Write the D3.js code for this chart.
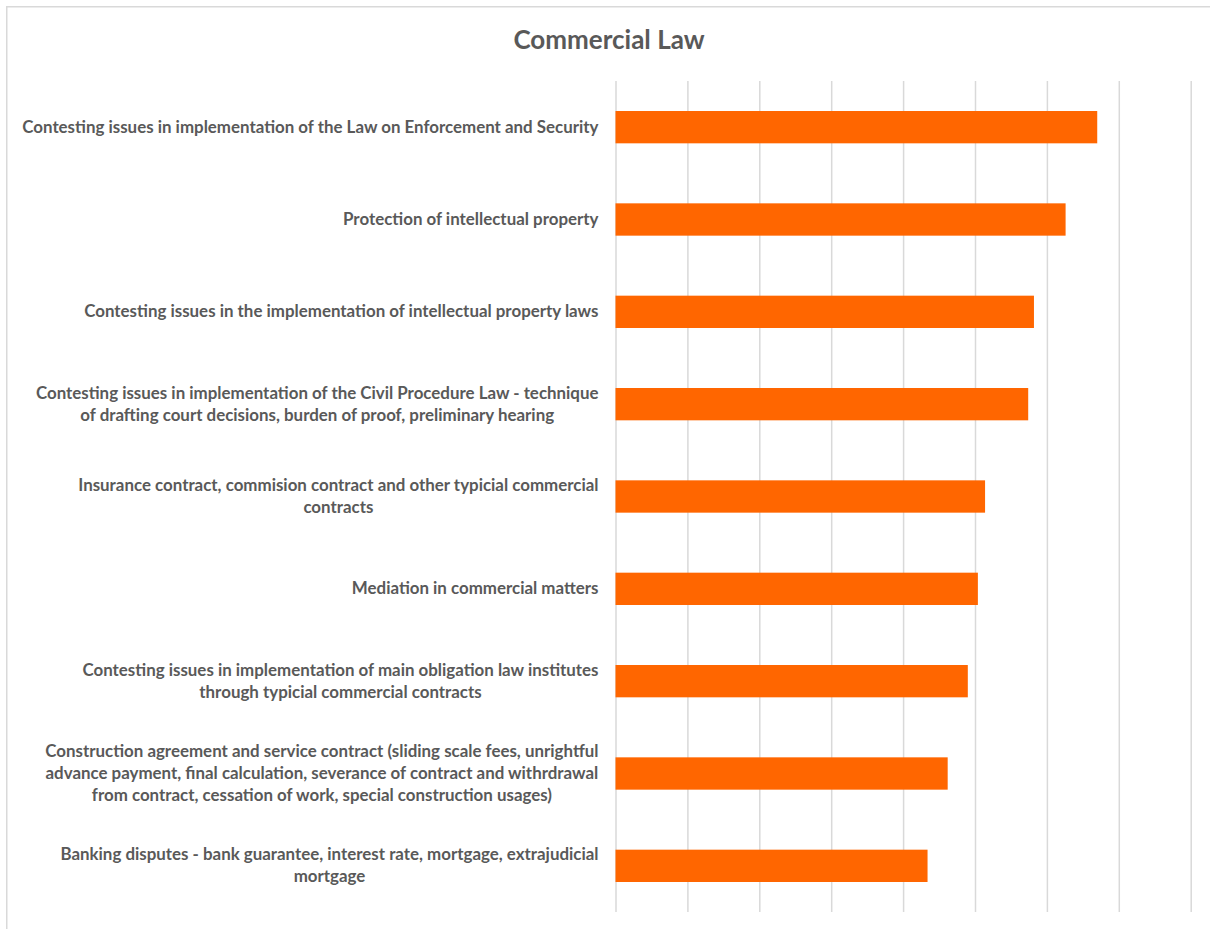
<!DOCTYPE html>
<html>
<head>
<meta charset="utf-8">
<script src="https://cdn.jsdelivr.net/npm/d3@7"></script>
<style>
  html, body { margin: 0; padding: 0; background: #ffffff; }
  svg { display: block; }
</style>
</head>
<body>
<svg id="chart" width="1210" height="929"></svg>
<script>
// ---- data ----
const title = "Commercial Law";
const categories = [
  "Contesting issues in implementation of the Law on Enforcement and Security",
  "Protection of intellectual property",
  "Contesting issues in the implementation of intellectual property laws",
  "Contesting issues in implementation of the Civil Procedure Law - technique of drafting court decisions, burden of proof, preliminary hearing",
  "Insurance contract, commision contract and other typicial commercial contracts",
  "Mediation in commercial matters",
  "Contesting issues in implementation of main obligation law institutes through typicial commercial contracts",
  "Construction agreement and service contract (sliding scale fees, unrightful advance payment, final calculation, severance of contract and withrdrawal from contract, cessation of work, special construction usages)",
  "Banking disputes - bank guarantee, interest rate, mortgage, extrajudicial mortgage"
];
const labelLines = [
  ["Contesting issues in implementation of the Law on Enforcement and Security"],
  ["Protection of intellectual property"],
  ["Contesting issues in the implementation of intellectual property laws"],
  ["Contesting issues in implementation of the Civil Procedure Law - technique", "of drafting court decisions, burden of proof, preliminary hearing"],
  ["Insurance contract, commision contract and other typicial commercial", "contracts"],
  ["Mediation in commercial matters"],
  ["Contesting issues in implementation of main obligation law institutes", "through typicial commercial contracts"],
  ["Construction agreement and service contract (sliding scale fees, unrightful", "advance payment, final calculation, severance of contract and withrdrawal", "from contract, cessation of work, special construction usages)"],
  ["Banking disputes - bank guarantee, interest rate, mortgage, extrajudicial", "mortgage"]
];
const values = [3.35, 3.13, 2.91, 2.87, 2.57, 2.52, 2.45, 2.31, 2.17];
const gridTicks = [0, 0.5, 1, 1.5, 2, 2.5, 3, 3.5, 4];

// ---- layout ----
const svg = d3.select("#chart");
const plot = { left: 615.5, right: 1190.7, top: 81, bottom: 912 };
const FONT = "Lato, 'Open Sans', 'Liberation Sans', sans-serif";
const textColor = "#595959";
const gridColor = "#d9d9d9";
const barColor = "#ff6600";

// chart border
svg.append("rect")
  .attr("x", 6.75).attr("y", 6.75)
  .attr("width", 1300).attr("height", 1000)
  .attr("fill", "none").attr("stroke", gridColor).attr("stroke-width", 1.5);

// title
svg.append("text")
  .attr("x", 609).attr("y", 49)
  .attr("text-anchor", "middle")
  .attr("font-family", FONT).attr("font-weight", "bold")
  .attr("font-size", 26).attr("fill", textColor)
  .text(title);

const x = d3.scaleLinear().domain([0, 4]).range([plot.left, plot.right]);
const y = d3.scaleBand().domain(categories).range([plot.top, plot.bottom]).paddingInner(0.65).paddingOuter(0.325);

// gridlines via axis
const gAxis = svg.append("g")
  .attr("transform", `translate(0,${plot.bottom})`)
  .call(d3.axisBottom(x).tickValues(gridTicks).tickSize(-(plot.bottom - plot.top)).tickFormat(""));
gAxis.select(".domain").remove();
gAxis.selectAll(".tick line").attr("stroke", gridColor).attr("stroke-width", 1.5);

// bars
svg.append("g").selectAll("rect")
  .data(values)
  .join("rect")
  .attr("x", x(0))
  .attr("y", (d, i) => y(categories[i]))
  .attr("width", d => x(d) - x(0))
  .attr("height", y.bandwidth())
  .attr("fill", barColor);

// category labels (centered multi-line blocks, right edge at 598)
const rightEdge = 598.5;
const lineH = 22.3;
const labels = svg.append("g");
labelLines.forEach((lines, i) => {
  const cy = y(categories[i]) + y.bandwidth() / 2;
  const t = labels.append("text")
    .attr("font-family", FONT).attr("font-weight", "bold")
    .attr("font-size", 16.9).attr("fill", textColor)
    .attr("text-anchor", "middle");
  const spans = lines.map((ln, k) => t.append("tspan")
    .attr("y", cy + (k - (lines.length - 1) / 2) * lineH + 5.5)
    .text(ln));
  const maxW = d3.max(spans, s => s.node().getComputedTextLength());
  spans.forEach(s => s.attr("x", rightEdge - maxW / 2));
});
</script>
</body>
</html>
